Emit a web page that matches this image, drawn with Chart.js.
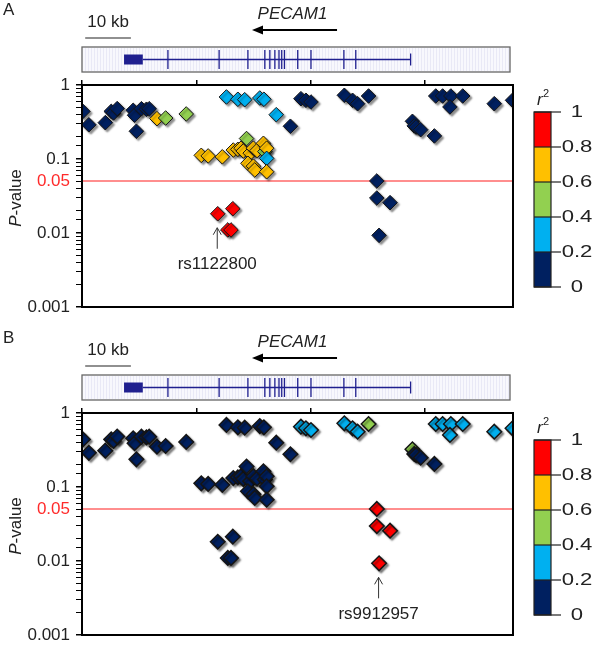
<!DOCTYPE html>
<html>
<head>
<meta charset="utf-8">
<script src="https://cdn.jsdelivr.net/npm/chart.js@4"></script>
<style>
  body { margin: 0; background: #fff; width: 600px; height: 648px; position: relative; overflow: hidden; }
  .panel { position: absolute; left: 0; width: 600px; height: 324px; }
</style>
</head>
<body>
<div class="panel" style="top:0"><canvas id="chartA"></canvas></div>
<div class="panel" style="top:328px"><canvas id="chartB"></canvas></div>
<script>
// SNP positions (kb from left edge of region) and association P-values
const snpKb = [
  0.2, 1.5, 5.1, 6.4, 6.9, 7.7, 11.2, 11.5, 11.9, 13.0, 14.1, 14.7,
  16.4, 18.3, 22.8, 26.1, 27.6, 30.7,
  31.6, 34.1, 35.6, 38.9, 39.8, 42.5, 45.6,
  33.1, 34.1, 34.8, 35.3, 36.0, 36.8, 37.5, 38.3, 39.7, 40.0, 40.4, 40.4,
  36.3, 37.5, 37.8, 40.4,
  29.7, 33.0, 31.9, 32.6,
  47.9, 49.0, 50.1, 57.4, 59.2, 60.3, 62.7,
  72.3, 72.7, 73.1, 74.1, 77.1,
  77.4, 78.9, 80.7, 83.3, 80.5, 90.2, 94.2,
  64.5, 64.5, 67.4, 65.0
];
const pValues = [
  0.44, 0.29, 0.31, 0.44, 0.42, 0.48, 0.455, 0.39, 0.237, 0.478, 0.47, 0.478,
  0.351, 0.358, 0.406, 0.112, 0.110, 0.107,
  0.689, 0.641, 0.633, 0.667, 0.641, 0.397, 0.277,
  0.132, 0.135, 0.140, 0.128, 0.189, 0.120, 0.140, 0.130, 0.163, 0.126, 0.140, 0.102,
  0.0875, 0.080, 0.071, 0.0673,
  0.0182, 0.0213, 0.0110, 0.0110,
  0.653, 0.621, 0.589, 0.726, 0.621, 0.559, 0.710,
  0.323, 0.28, 0.271, 0.249, 0.205,
  0.710, 0.710, 0.710, 0.710, 0.505, 0.559, 0.621,
  0.0505, 0.0297, 0.0257, 0.0093
];
// LD (r2) with the lead SNP of each panel
const r2PanelA = [
  0.1, 0.1, 0.1, 0.1, 0.1, 0.1, 0.1, 0.1, 0.1, 0.1, 0.1, 0.1,
  0.7, 0.5, 0.5, 0.7, 0.7, 0.7,
  0.3, 0.3, 0.3, 0.3, 0.3, 0.3, 0.1,
  0.7, 0.7, 0.7, 0.7, 0.5, 0.7, 0.7, 0.7, 0.7, 0.5, 0.7, 0.3,
  0.7, 0.7, 0.7, 0.7,
  0.9, 0.9, 0.9, 0.9,
  0.1, 0.1, 0.1, 0.1, 0.1, 0.1, 0.1,
  0.1, 0.1, 0.1, 0.1, 0.1,
  0.1, 0.1, 0.1, 0.1, 0.1, 0.1, 0.1,
  0.1, 0.1, 0.1, 0.1
];
const r2PanelB = [
  0.1, 0.1, 0.1, 0.1, 0.1, 0.1, 0.1, 0.1, 0.1, 0.1, 0.1, 0.1,
  0.1, 0.1, 0.1, 0.1, 0.1, 0.1,
  0.1, 0.1, 0.1, 0.1, 0.1, 0.1, 0.1,
  0.1, 0.1, 0.1, 0.1, 0.1, 0.1, 0.1, 0.1, 0.1, 0.1, 0.1, 0.1,
  0.1, 0.1, 0.1, 0.1,
  0.1, 0.1, 0.1, 0.1,
  0.3, 0.3, 0.3, 0.3, 0.3, 0.3, 0.5,
  0.5, 0.1, 0.1, 0.1, 0.1,
  0.3, 0.3, 0.3, 0.3, 0.3, 0.3, 0.3,
  0.9, 0.9, 0.9, 0.9
];
const panelLetters = ['A', 'B'];
const leadIndex = [41, 67];
const leadLabels = ['rs1122800', 'rs9912957'];

const r2Breaks = [0, 0.2, 0.4, 0.6, 0.8, 1];
const r2Colors = ['#002060', '#00b0f0', '#92d050', '#ffc000', '#ff0000'];
const yTickValues = [1, 0.1, 0.01, 0.001];
const pThreshold = 0.05;

// gene model (kb)
const geneName = 'PECAM1';
const geneUtr = [9.2, 13.3];
const geneSpan = [13.3, 71.9];
const geneExons = [18.8, 30.0, 36.3, 40.0, 41.1, 42.2, 43.1, 43.7, 44.3, 47.2, 50.1, 57.3, 59.9];
const geneArrow = [55.8, 37.2];
const scaleBarKb = [0.7, 10.7];

const FONT = 'Arial, "Liberation Sans", sans-serif';
Chart.defaults.font.family = FONT;
Chart.defaults.font.size = 17;
Chart.defaults.color = '#222';

function colorFor(r2) {
  for (let i = 0; i < r2Colors.length; i++) {
    if (r2 <= r2Breaks[i + 1]) return r2Colors[i];
  }
  return r2Colors[r2Colors.length - 1];
}

function isDecade(v) {
  const l = Math.log10(v);
  return Math.abs(l - Math.round(l)) < 1e-6;
}

const decorPlugin = {
  id: 'decor',
  beforeDatasetsDraw(chart) {
    const { ctx, chartArea: a, scales: { y } } = chart;
    const yy = Math.round(y.getPixelForValue(pThreshold));
    ctx.save();
    ctx.strokeStyle = 'rgba(255,50,50,0.55)';
    ctx.lineWidth = 2;
    ctx.beginPath();
    ctx.moveTo(a.left, yy);
    ctx.lineTo(a.right, yy);
    ctx.stroke();
    ctx.restore();
  },
  beforeDatasetDraw(chart) {
    const ctx = chart.ctx;
    ctx.save();
    ctx.shadowColor = 'rgba(0,0,0,0.45)';
    ctx.shadowBlur = 2;
    ctx.shadowOffsetX = 2;
    ctx.shadowOffsetY = 2;
  },
  afterDatasetDraw(chart) {
    chart.ctx.restore();
  },
  afterDraw(chart, args, opts) {
    const { ctx, chartArea: a, scales: { x, y } } = chart;
    ctx.save();

    // plot frame
    ctx.strokeStyle = '#000';
    ctx.lineWidth = 2;
    ctx.strokeRect(a.left, a.top, a.right - a.left, a.bottom - a.top);

    // threshold label
    ctx.fillStyle = '#ff2a2a';
    ctx.font = '17px ' + FONT;
    ctx.textAlign = 'right';
    ctx.textBaseline = 'middle';
    ctx.fillText('0.05', a.left - 12, y.getPixelForValue(pThreshold));

    // y title: P-value (P in italics)
    ctx.save();
    ctx.translate(16, (a.top + a.bottom) / 2 + 2);
    ctx.rotate(-Math.PI / 2);
    ctx.fillStyle = '#222';
    ctx.textAlign = 'left';
    ctx.font = 'italic 17px ' + FONT;
    const wP = ctx.measureText('P').width;
    ctx.font = '17px ' + FONT;
    const wRest = ctx.measureText('-value').width;
    const start = -(wP + wRest) / 2;
    ctx.font = 'italic 17px ' + FONT;
    ctx.fillText('P', start, 0);
    ctx.font = '17px ' + FONT;
    ctx.fillText('-value', start + wP, 0);
    ctx.restore();

    // panel letter
    ctx.fillStyle = '#222';
    ctx.textAlign = 'left';
    ctx.font = '17px ' + FONT;
    ctx.fillText(opts.letter, 3, a.top - 75);

    // scale bar
    const sb0 = x.getPixelForValue(scaleBarKb[0]);
    const sb1 = x.getPixelForValue(scaleBarKb[1]);
    ctx.strokeStyle = '#222';
    ctx.lineWidth = 1.2;
    ctx.beginPath();
    ctx.moveTo(sb0, a.top - 47);
    ctx.lineTo(sb1, a.top - 47);
    ctx.stroke();
    ctx.textAlign = 'center';
    ctx.fillText('10 kb', (sb0 + sb1) / 2, a.top - 63);

    // gene name and transcription direction
    const ar0 = x.getPixelForValue(geneArrow[0]);
    const ar1 = x.getPixelForValue(geneArrow[1]);
    ctx.font = 'italic 17px ' + FONT;
    ctx.fillText(geneName, (ar0 + ar1) / 2 - 2, a.top - 71);
    ctx.strokeStyle = '#000';
    ctx.lineWidth = 2;
    ctx.beginPath();
    ctx.moveTo(ar0, a.top - 55);
    ctx.lineTo(ar1 + 8, a.top - 55);
    ctx.stroke();
    ctx.fillStyle = '#000';
    ctx.beginPath();
    ctx.moveTo(ar1, a.top - 55);
    ctx.lineTo(ar1 + 11, a.top - 59.5);
    ctx.lineTo(ar1 + 11, a.top - 50.5);
    ctx.closePath();
    ctx.fill();

    // gene track box
    const bx0 = a.left, bx1 = a.right - 3, by0 = a.top - 38, by1 = a.top - 13;
    ctx.fillStyle = '#f8f8fd';
    ctx.fillRect(bx0, by0, bx1 - bx0, by1 - by0);
    ctx.strokeStyle = 'rgba(215,215,238,0.45)';
    ctx.lineWidth = 1;
    for (let px = bx0 + 3; px < bx1; px += 3) {
      ctx.beginPath();
      ctx.moveTo(px + 0.5, by0 + 1);
      ctx.lineTo(px + 0.5, by1 - 1);
      ctx.stroke();
    }
    ctx.strokeStyle = '#666';
    ctx.lineWidth = 1.3;
    ctx.strokeRect(bx0, by0, bx1 - bx0, by1 - by0);

    const gy = (by0 + by1) / 2;
    const gColor = '#1f1f8f';
    ctx.strokeStyle = gColor;
    ctx.fillStyle = gColor;
    ctx.lineWidth = 1.5;
    ctx.beginPath();
    ctx.moveTo(x.getPixelForValue(geneSpan[0]), gy);
    ctx.lineTo(x.getPixelForValue(geneSpan[1]), gy);
    ctx.stroke();
    const u0 = x.getPixelForValue(geneUtr[0]);
    const u1 = x.getPixelForValue(geneUtr[1]);
    ctx.fillRect(u0, gy - 5, u1 - u0, 10);
    ctx.lineWidth = 1.3;
    geneExons.forEach(k => {
      const px = x.getPixelForValue(k);
      ctx.beginPath();
      ctx.moveTo(px, by0 + 3);
      ctx.lineTo(px, by1 - 3);
      ctx.stroke();
    });
    const ge = x.getPixelForValue(geneSpan[1]);
    ctx.beginPath();
    ctx.moveTo(ge, gy - 6);
    ctx.lineTo(ge, gy + 6);
    ctx.stroke();

    // r2 colour bar
    const cbx = a.right + 21, cby = a.top + 27, cbw = 17, segH = 35;
    const nSeg = r2Colors.length;
    for (let i = 0; i < nSeg; i++) {
      ctx.fillStyle = r2Colors[nSeg - 1 - i];
      ctx.fillRect(cbx, cby + i * segH, cbw, segH);
    }
    ctx.strokeStyle = '#222';
    ctx.lineWidth = 1.2;
    ctx.strokeRect(cbx, cby, cbw, segH * nSeg);
    ctx.fillStyle = '#222';
    ctx.textAlign = 'center';
    ctx.textBaseline = 'middle';
    ctx.font = '17px ' + FONT;
    r2Breaks.forEach((b, i) => {
      const ty = cby + (nSeg - i) * segH;
      ctx.beginPath();
      ctx.moveTo(cbx, ty);
      ctx.lineTo(cbx + cbw + 10, ty);
      ctx.stroke();
      ctx.save();
      ctx.translate(cbx + cbw + 26, ty);
      ctx.scale(1.3, 1);
      ctx.fillText(String(b), 0, 0);
      ctx.restore();
    });
    ctx.textAlign = 'left';
    ctx.font = 'italic 17px ' + FONT;
    ctx.fillText('r', cbx + 3, cby - 12);
    ctx.font = '11px ' + FONT;
    ctx.fillText('2', cbx + 9, cby - 18);

    // lead SNP annotation
    const li = opts.lead;
    const lx = x.getPixelForValue(snpKb[li]) - 0.5;
    const ly = y.getPixelForValue(pValues[li]);
    ctx.strokeStyle = '#333';
    ctx.lineWidth = 1;
    ctx.beginPath();
    ctx.moveTo(lx, ly + 35);
    ctx.lineTo(lx, ly + 14);
    ctx.moveTo(lx - 4, ly + 21);
    ctx.lineTo(lx, ly + 14);
    ctx.lineTo(lx + 4, ly + 21);
    ctx.stroke();
    ctx.fillStyle = '#222';
    ctx.textAlign = 'center';
    ctx.font = '17px ' + FONT;
    ctx.fillText(opts.label, lx, ly + 51);

    ctx.restore();
  }
};

function makePanel(canvasId, r2Values, panel) {
  const points = snpKb.map((kb, i) => ({ x: kb, y: pValues[i] }));
  return new Chart(document.getElementById(canvasId), {
    type: 'scatter',
    data: {
      datasets: [{
        data: points,
        pointStyle: 'rectRot',
        pointRadius: 7.3,
        pointHoverRadius: 7.3,
        backgroundColor: r2Values.map(colorFor),
        borderColor: '#151515',
        borderWidth: panel === 0 ? 1 : 1.5
      }]
    },
    options: {
      responsive: true,
      maintainAspectRatio: false,
      animation: false,
      events: [],
      layout: { padding: { left: 0, top: 0, right: 87, bottom: 17 } },
      plugins: {
        legend: { display: false },
        tooltip: { enabled: false },
        decor: { letter: panelLetters[panel], lead: leadIndex[panel], label: leadLabels[panel] }
      },
      scales: {
        x: {
          type: 'linear',
          position: 'top',
          min: 0,
          max: 94.3,
          ticks: { stepSize: 25, includeBounds: false, display: false },
          grid: { drawOnChartArea: false, tickLength: 5, color: '#000', lineWidth: 1.5 },
          border: { color: '#000', width: 2 },
          afterFit: s => { s.height = 85; }
        },
        y: {
          type: 'logarithmic',
          min: 0.001,
          max: 1,
          ticks: {
            autoSkip: false,
            padding: 6,
            color: '#222',
            callback: v => {
              if (!isDecade(v)) return '';
              const d = -Math.round(Math.log10(v));
              return d <= 0 ? '1' : v.toFixed(d);
            }
          },
          grid: {
            drawOnChartArea: false,
            tickLength: 6,
            color: '#000',
            lineWidth: ctx => (ctx.tick && isDecade(ctx.tick.value)) ? 1.5 : 1
          },
          border: { color: '#000', width: 2 },
          afterFit: s => { s.width = 82; }
        }
      }
    },
    plugins: [decorPlugin]
  });
}

makePanel('chartA', r2PanelA, 0);
makePanel('chartB', r2PanelB, 1);
</script>
</body>
</html>
